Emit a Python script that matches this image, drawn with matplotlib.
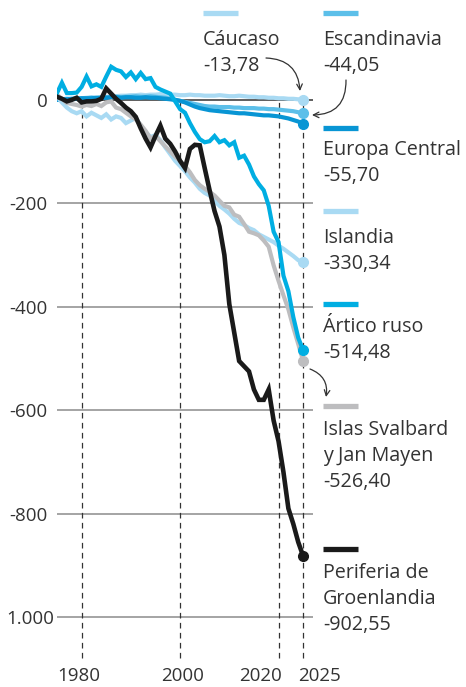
import matplotlib
matplotlib.use('Agg')
import matplotlib.pyplot as plt
import matplotlib.transforms as mtransforms

plt.rcParams['font.family'] = ['Open Sans', 'DejaVu Sans']

# ---------- 数据 ----------
years = list(range(1975, 2026))

caucaso = [0, 1, 2, 2, 3, 3, 4, 5, 4, 5,
           6, 6, 7, 8, 8, 9, 9, 10, 9, 10,
           10, 11, 10, 10, 10, 9, 9, 10, 9, 9,
           8, 8, 8, 9, 8, 7, 7, 8, 7, 6,
           6, 5, 5, 4, 4, 3, 3, 2, 2, 1,
           0]
escandinavia = [0, 1, 2, 1, 2, 3, 3, 4, 3, 4,
                5, 5, 6, 5, 6, 6, 7, 6, 6, 7,
                6, 5, 4, 2, 0, -2, -4, -6, -8, -10,
                -12, -13, -13, -14, -14, -14, -15, -15, -16, -16,
                -16, -17, -17, -18, -18, -19, -20, -21, -22, -24,
                -26]
europa_central = [0, 1, 1, 2, 2, 3, 3, 3, 4, 4,
                  4, 5, 5, 4, 5, 5, 4, 4, 5, 4,
                  4, 3, 2, 1, 0, -2, -5, -9, -13, -16,
                  -18, -20, -21, -22, -23, -24, -25, -26, -26, -27,
                  -28, -29, -30, -30, -31, -32, -34, -36, -39, -42,
                  -46]
islandia = [6, -5, -15, -22, -26, -22, -32, -25, -30, -35,
            -28, -38, -32, -35, -45, -40, -35, -50, -62, -72,
            -68, -78, -92, -105, -118, -128, -138, -150, -160, -172,
            -180, -185, -195, -205, -212, -220, -230, -238, -242, -248,
            -252, -260, -265, -270, -275, -282, -288, -295, -302, -310,
            -314]
svalbard = [10, 2, -6, -8, -10, -13, -10, -12, -8, -12,
            -5, -3, -15, -18, -25, -32, -38, -48, -60, -75,
            -70, -80, -90, -100, -110, -118, -128, -140, -155, -165,
            -172, -178, -185, -195, -205, -208, -222, -226, -240, -255,
            -258, -262, -272, -284, -320, -350, -378, -405, -440, -472,
            -505]
artico_ruso = [13, 33, 13, 13, 14, 25, 45, 26, 30, 25,
               45, 64, 58, 55, 44, 53, 40, 52, 40, 42,
               25, 20, 16, 12, -3, -18, -25, -45, -62, -76,
               -82, -80, -70, -82, -78, -88, -82, -112, -108, -125,
               -148, -163, -175, -205, -255, -275, -340, -370, -420, -460,
               -484]
groenlandia = [6, 2, -3, 0, 4, -5, -3, -3, -2, 2,
               22, 12, 2, -6, -15, -22, -33, -55, -75, -92,
               -70, -50, -75, -85, -100, -118, -132, -95, -87, -88,
               -132, -175, -215, -245, -300, -395, -450, -505, -515, -525,
               -560, -580, -580, -560, -620, -660, -720, -790, -820, -855,
               -882]

names = ['Cáucaso', 'Escandinavia', 'Europa Central', 'Islandia',
         'Islas Svalbard\ny Jan Mayen', 'Ártico ruso', 'Periferia de\nGroenlandia']
final_labels = ['-13,78', '-44,05', '-55,70', '-330,34', '-526,40', '-514,48', '-902,55']
series = [caucaso, escandinavia, europa_central, islandia, svalbard, artico_ruso, groenlandia]
colors = ['#a9daf3', '#5cbfe9', '#0895d4', '#a9daf3', '#bdbdbf', '#00aee2', '#1a1a1a']

y_ticks = [0, -200, -400, -600, -800, -1000]
y_tick_labels = ['0', '-200', '-400', '-600', '-800', '1.000']
x_ticks = [1980, 2000, 2020, 2025]

W, H = 466, 687
TEXT = '#333333'


def fpx(x, y):
    """像素坐标 -> figure 坐标"""
    return x / W, 1 - y / H


fig = plt.figure(figsize=(W / 100, H / 100), dpi=100)
ax = fig.add_axes([57 / W, 1 - 660 / H, (313 - 57) / W, 660 / H])
ax.set_xlim(1975, 2027)
ax.set_ylim(-1083, 193)
for s in ax.spines.values():
    s.set_visible(False)

# 网格线
for yt in y_ticks:
    ax.axhline(yt, color='#333333' if yt == 0 else '#8c8c8c', lw=1.1, zorder=1)
ax.vlines(x_ticks, -1080, 0, colors='#333333', lw=0.9,
          linestyles=(0, (4.5, 3.5)), zorder=1)

ax.set_yticks(y_ticks)
ax.set_yticklabels(y_tick_labels)
ax.set_xticks(x_ticks)
ax.set_xticklabels([str(x) for x in x_ticks])
ax.tick_params(length=0, labelsize=13.5, colors=TEXT)
ax.tick_params(axis='y', pad=7)
ax.tick_params(axis='x', pad=5)

# 个别刻度标签微调
x_shift = [-3, 2, -18, 16]
for lab, dx in zip(ax.get_xticklabels(), x_shift):
    lab.set_transform(lab.get_transform() + mtransforms.ScaledTranslation(dx / 100, 0, fig.dpi_scale_trans))
ylabs = ax.get_yticklabels()
ylabs[-1].set_transform(ylabs[-1].get_transform() + mtransforms.ScaledTranslation(7 / 100, 0, fig.dpi_scale_trans))

# 曲线
for i, (vals, c) in enumerate(zip(series, colors)):
    lw = 3.3 if c == '#1a1a1a' else 3.0
    ax.plot(years, vals, color=c, lw=lw, solid_joinstyle='miter', zorder=3 + i)
    ax.plot(years[-1], vals[-1], 'o', color=c, ms=7, zorder=3 + i)

# 右侧图例
legend_pos = [(203, 13, 45), (323, 13, 45), (323, 128, 155), (323, 211, 243),
              (323, 406, 435), (323, 304, 332), (323, 549, 578)]
for name, val, c, (lx, by, bl) in zip(names, final_labels, colors, legend_pos):
    x0, y0 = fpx(lx, by)
    x1, _ = fpx(lx + 35, by)
    fig.add_artist(plt.Line2D([x0, x1], [y0, y0], color=c, lw=3.8, solid_capstyle='butt'))
    lines = name.split('\n') + [val]
    for k, t in enumerate(lines):
        tx, ty = fpx(lx, bl + 26 * k)
        fig.text(tx, ty, t, fontsize=14.2, color=TEXT, va='baseline', ha='left')

# 箭头
arrow_kw = dict(arrowstyle='->', color='#333333', lw=0.9, shrinkA=0, shrinkB=0)
ax.annotate('', xy=fpx(300, 91), xytext=fpx(266, 58), xycoords='figure fraction',
            textcoords='figure fraction',
            arrowprops=dict(connectionstyle='arc3,rad=-0.45', **arrow_kw))
ax.annotate('', xy=fpx(312, 115), xytext=fpx(346, 80), xycoords='figure fraction',
            textcoords='figure fraction',
            arrowprops=dict(connectionstyle='arc3,rad=-0.5', **arrow_kw))
ax.annotate('', xy=fpx(326, 397), xytext=fpx(310, 369), xycoords='figure fraction',
            textcoords='figure fraction',
            arrowprops=dict(connectionstyle='arc3,rad=-0.4', **arrow_kw))

fig.savefig('out.png', dpi=100)
